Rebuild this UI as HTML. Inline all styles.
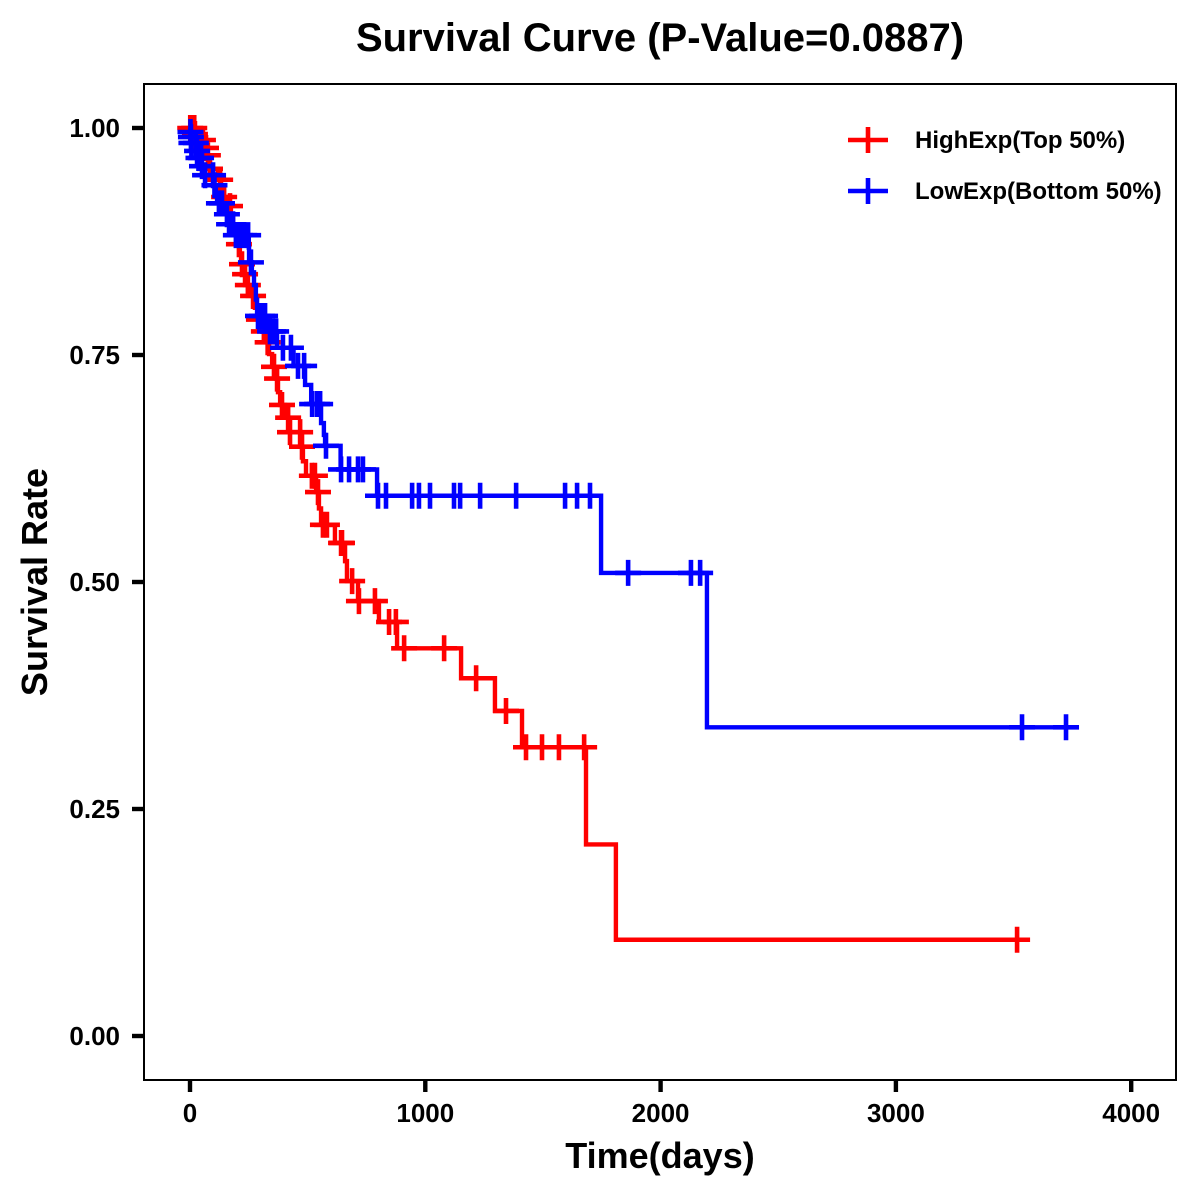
<!DOCTYPE html>
<html>
<head>
<meta charset="utf-8">
<title>Survival Curve</title>
<style>
html,body{margin:0;padding:0;background:#fff;}
svg{display:block;}
text{font-family:"Liberation Sans",Arial,sans-serif;font-weight:bold;fill:#000;}
</style>
</head>
<body>
<svg id="chart" xmlns="http://www.w3.org/2000/svg" width="1200" height="1200" viewBox="0 0 1200 1200">
<rect x="0" y="0" width="1200" height="1200" fill="#fff"/>
<text x="660" y="51" font-size="40" text-anchor="middle">Survival Curve (P-Value=0.0887)</text>
<text x="660" y="1168" font-size="36" text-anchor="middle">Time(days)</text>
<text transform="translate(47,582) rotate(-90)" font-size="36" text-anchor="middle">Survival Rate</text>
<g id="marks"></g>
<rect x="144" y="84" width="1032" height="996" fill="none" stroke="#000" stroke-width="2"/>
<g id="axes"></g>
<g id="legend"></g>
</svg>
<script>
const xTickValues = [0, 1000, 2000, 3000, 4000];
const yTickValues = [0, 0.25, 0.5, 0.75, 1];
const yTickLabels = ["0.00", "0.25", "0.50", "0.75", "1.00"];

const highEventDays = [19,42,64,72,77,81,119,132,140,162,174,183,195,204,212,217,230,242,264,276,289,310,327,336,349,366,374,383,404,420,472,480,493,536,548,557,616,659,667,714,803,880,1152,1296,1411,1683,1810];
const highSurvival = [.9934,.9868,.978,.970,.9626,.955,.943,.934,.924,.914,.904,.894,.883,.872,.861,.850,.839,.827,.815,.802,.789,.776,.764,.751,.737,.724,.709,.695,.681,.665,.649,.633,.617,.599,.581,.563,.543,.523,.501,.479,.456,.427,.394,.358,.318,.211,.106];
const highCensorDays = [1,18,21,55,68,76,85,128,145,170,208,221,234,246,268,293,314,330,357,370,391,417,425,468,476,518,531,544,565,582,642,646,689,718,786,846,875,910,1080,1216,1343,1428,1496,1568,1675,3515];

const lowEventDays = [1,3,5,28,32,49,55,100,110,115,140,161,191,250,251,263,272,280,285,323,370,440,489,515,557,569,574,640,795,1747,2197];
const lowSurvival = [.9956,.990,.9835,.9747,.967,.958,.948,.937,.927,.917,.905,.894,.882,.868,.852,.841,.827,.811,.793,.776,.758,.738,.717,.696,.675,.662,.650,.624,.595,.510,.340];
const lowCensorDays = [2,4,6,25,30,36,47,51,64,98,104,123,136,157,166,183,195,213,230,247,259,289,306,319,340,353,366,395,429,459,485,519,540,553,578,642,676,714,735,799,833,944,973,1020,1122,1148,1233,1386,1594,1645,1700,1862,2129,2168,3536,3723];

const legendLabels = ["HighExp(Top 50%)", "LowExp(Bottom 50%)"];

const NS = "http://www.w3.org/2000/svg";
function xScale(d) { return 190 + d * 0.2353; }
function yScale(s) { return 1036 - s * 908; }

function survivalAt(days, surv, t) {
  let s = 1;
  for (let i = 0; i < days.length; i++) {
    if (days[i] <= t) s = surv[i];
  }
  return s;
}

function makeSvg(tag, attrs, parent) {
  const el = document.createElementNS(NS, tag);
  for (const k in attrs) el.setAttribute(k, attrs[k]);
  parent.appendChild(el);
  return el;
}

function drawSeries(name, color, events, surv, censors, parent) {
  const g = makeSvg("g", {}, parent);
  
  
  let d = "M" + xScale(0) + " " + yScale(1);
  let last = 1;
  for (let i = 0; i < events.length; i++) {
    d += "L" + xScale(events[i]).toFixed(2) + " " + yScale(last).toFixed(2);
    d += "L" + xScale(events[i]).toFixed(2) + " " + yScale(surv[i]).toFixed(2);
    last = surv[i];
  }
  const endDay = Math.max(censors[censors.length - 1], events[events.length - 1]);
  d += "L" + xScale(endDay).toFixed(2) + " " + yScale(last).toFixed(2);
  const line = makeSvg("path", { d: d, fill: "none", stroke: color, "stroke-width": 4.4, "stroke-linejoin": "mitre" }, g);
  
  
  for (let i = 0; i < censors.length; i++) {
    const cx = xScale(censors[i]);
    const cy = yScale(survivalAt(events, surv, censors[i]));
    const mark = makeSvg("path", {
      d: "M" + (cx - 13).toFixed(2) + " " + cy.toFixed(2) + "H" + (cx + 13).toFixed(2) + "M" + cx.toFixed(2) + " " + (cy - 13).toFixed(2) + "V" + (cy + 13).toFixed(2),
      fill: "none", stroke: color, "stroke-width": 4.6
    }, g);
    
    
  }
}

const marks = document.getElementById("marks");
drawSeries("high-exp", "#ff0000", highEventDays, highSurvival, highCensorDays, marks);
drawSeries("low-exp", "#0000ff", lowEventDays, lowSurvival, lowCensorDays, marks);

const axes = document.getElementById("axes");
xTickValues.forEach(function (v) {
  const x = xScale(v);
  const t = makeSvg("line", { x1: x, x2: x, y1: 1080, y2: 1092, stroke: "#000", "stroke-width": 4.4 }, axes);
  
  
  const l = makeSvg("text", { x: x, y: 1122, "font-size": 26, "text-anchor": "middle" }, axes);
  
  
  l.textContent = String(v);
});
yTickValues.forEach(function (v, i) {
  const y = yScale(v);
  const t = makeSvg("line", { x1: 132, x2: 144, y1: y, y2: y, stroke: "#000", "stroke-width": 4.4 }, axes);
  
  
  const l = makeSvg("text", { x: 120, y: y + 9, "font-size": 26, "text-anchor": "end" }, axes);
  
  
  l.textContent = yTickLabels[i];
});

const legend = document.getElementById("legend");
const legendColors = ["#ff0000", "#0000ff"];
legendLabels.forEach(function (label, i) {
  const y = 140 + i * 51;
  const entry = makeSvg("g", {}, legend);
  
  
  const key = makeSvg("path", { d: "M848 " + y + "H888M868 " + (y - 13) + "V" + (y + 13), fill: "none", stroke: legendColors[i], "stroke-width": 4.6 }, entry);
  
  
  const txt = makeSvg("text", { x: 915, y: y + 8, "font-size": 24 }, entry);
  
  
  txt.textContent = label;
});
</script>
</body>
</html>
